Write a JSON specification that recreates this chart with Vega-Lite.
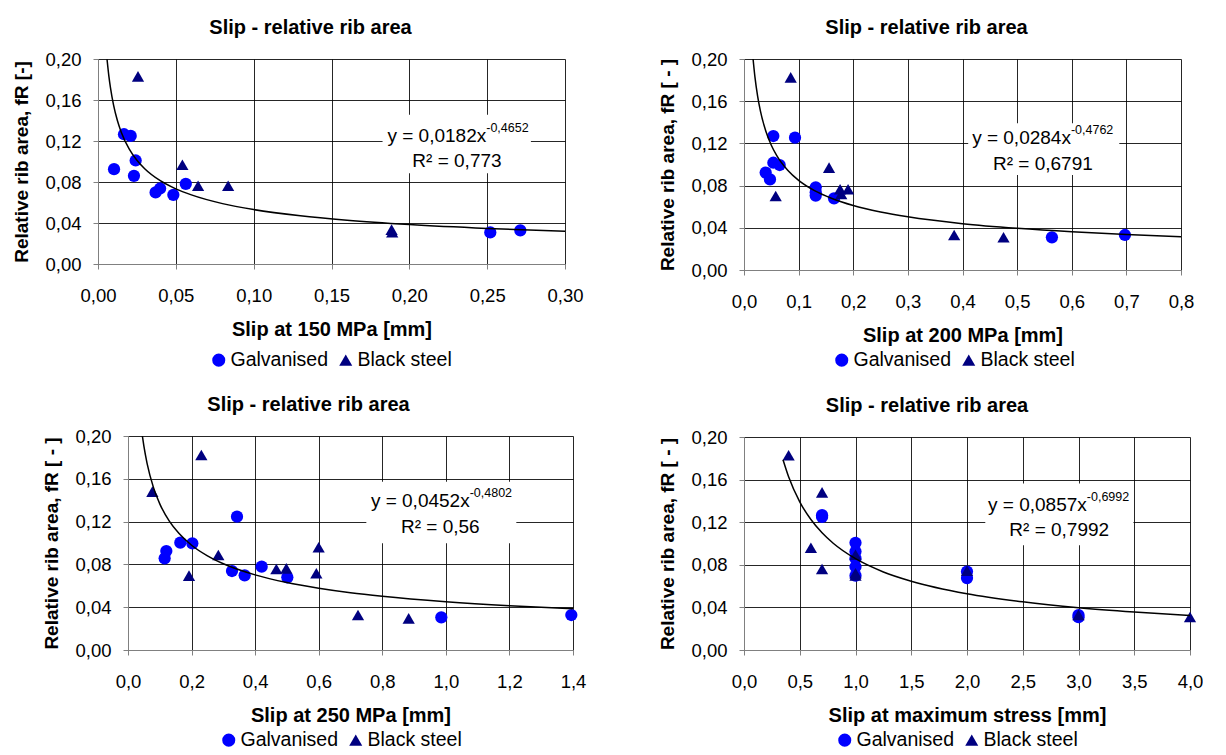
{
  "$schema": "https://vega.github.io/schema/vega-lite/v6.json",
  "padding": {"left": 12, "top": 18, "right": 0, "bottom": 0},
  "background": "white",
  "datasets": {
    "p1": [
      {"slip": 0.0103, "fr": 0.0925, "series": "Galvanised"},
      {"slip": 0.0167, "fr": 0.1266, "series": "Galvanised"},
      {"slip": 0.021, "fr": 0.125, "series": "Galvanised"},
      {"slip": 0.0242, "fr": 0.101, "series": "Galvanised"},
      {"slip": 0.0231, "fr": 0.086, "series": "Galvanised"},
      {"slip": 0.037, "fr": 0.0698, "series": "Galvanised"},
      {"slip": 0.0399, "fr": 0.0737, "series": "Galvanised"},
      {"slip": 0.0484, "fr": 0.0675, "series": "Galvanised"},
      {"slip": 0.0564, "fr": 0.0782, "series": "Galvanised"},
      {"slip": 0.252, "fr": 0.0308, "series": "Galvanised"},
      {"slip": 0.2713, "fr": 0.0328, "series": "Galvanised"},
      {"slip": 0.0257, "fr": 0.183, "series": "Black steel"},
      {"slip": 0.0542, "fr": 0.0968, "series": "Black steel"},
      {"slip": 0.0643, "fr": 0.0763, "series": "Black steel"},
      {"slip": 0.0836, "fr": 0.0763, "series": "Black steel"},
      {"slip": 0.1886, "fr": 0.0335, "series": "Black steel"},
      {"slip": 0.189, "fr": 0.031, "series": "Black steel"}
    ],
    "p2": [
      {"slip": 0.0537, "fr": 0.127, "series": "Galvanised"},
      {"slip": 0.0934, "fr": 0.1254, "series": "Galvanised"},
      {"slip": 0.0537, "fr": 0.1017, "series": "Galvanised"},
      {"slip": 0.0653, "fr": 0.0995, "series": "Galvanised"},
      {"slip": 0.0397, "fr": 0.0923, "series": "Galvanised"},
      {"slip": 0.0476, "fr": 0.0859, "series": "Galvanised"},
      {"slip": 0.1313, "fr": 0.0784, "series": "Galvanised"},
      {"slip": 0.1313, "fr": 0.0738, "series": "Galvanised"},
      {"slip": 0.1313, "fr": 0.0705, "series": "Galvanised"},
      {"slip": 0.1649, "fr": 0.0679, "series": "Galvanised"},
      {"slip": 0.5637, "fr": 0.031, "series": "Galvanised"},
      {"slip": 0.6974, "fr": 0.0332, "series": "Galvanised"},
      {"slip": 0.0855, "fr": 0.1826, "series": "Black steel"},
      {"slip": 0.1557, "fr": 0.097, "series": "Black steel"},
      {"slip": 0.058, "fr": 0.0701, "series": "Black steel"},
      {"slip": 0.1759, "fr": 0.0765, "series": "Black steel"},
      {"slip": 0.178, "fr": 0.072, "series": "Black steel"},
      {"slip": 0.1905, "fr": 0.0765, "series": "Black steel"},
      {"slip": 0.3847, "fr": 0.0332, "series": "Black steel"},
      {"slip": 0.4751, "fr": 0.031, "series": "Black steel"}
    ],
    "p3": [
      {"slip": 0.1206, "fr": 0.0925, "series": "Galvanised"},
      {"slip": 0.1153, "fr": 0.0857, "series": "Galvanised"},
      {"slip": 0.1646, "fr": 0.1003, "series": "Galvanised"},
      {"slip": 0.2024, "fr": 0.0997, "series": "Galvanised"},
      {"slip": 0.3429, "fr": 0.1246, "series": "Galvanised"},
      {"slip": 0.3272, "fr": 0.0738, "series": "Galvanised"},
      {"slip": 0.367, "fr": 0.0698, "series": "Galvanised"},
      {"slip": 0.4205, "fr": 0.0779, "series": "Galvanised"},
      {"slip": 0.5013, "fr": 0.0679, "series": "Galvanised"},
      {"slip": 0.9857, "fr": 0.0305, "series": "Galvanised"},
      {"slip": 1.3947, "fr": 0.0327, "series": "Galvanised"},
      {"slip": 0.2307, "fr": 0.1822, "series": "Black steel"},
      {"slip": 0.0766, "fr": 0.148, "series": "Black steel"},
      {"slip": 0.1919, "fr": 0.0695, "series": "Black steel"},
      {"slip": 0.2842, "fr": 0.0888, "series": "Black steel"},
      {"slip": 0.4667, "fr": 0.0757, "series": "Black steel"},
      {"slip": 0.4981, "fr": 0.0763, "series": "Black steel"},
      {"slip": 0.5998, "fr": 0.096, "series": "Black steel"},
      {"slip": 0.5925, "fr": 0.0717, "series": "Black steel"},
      {"slip": 0.7236, "fr": 0.0327, "series": "Black steel"},
      {"slip": 0.883, "fr": 0.0296, "series": "Black steel"}
    ],
    "p4": [
      {"slip": 0.7, "fr": 0.1266, "series": "Galvanised"},
      {"slip": 0.7, "fr": 0.125, "series": "Galvanised"},
      {"slip": 1.0, "fr": 0.1006, "series": "Galvanised"},
      {"slip": 1.0, "fr": 0.0925, "series": "Galvanised"},
      {"slip": 1.0, "fr": 0.086, "series": "Galvanised"},
      {"slip": 1.0, "fr": 0.0782, "series": "Galvanised"},
      {"slip": 1.0, "fr": 0.0698, "series": "Galvanised"},
      {"slip": 2.0, "fr": 0.0737, "series": "Galvanised"},
      {"slip": 2.0, "fr": 0.0675, "series": "Galvanised"},
      {"slip": 3.0, "fr": 0.0308, "series": "Galvanised"},
      {"slip": 3.0, "fr": 0.0328, "series": "Galvanised"},
      {"slip": 0.4, "fr": 0.1828, "series": "Black steel"},
      {"slip": 0.7, "fr": 0.148, "series": "Black steel"},
      {"slip": 0.6, "fr": 0.096, "series": "Black steel"},
      {"slip": 0.7, "fr": 0.076, "series": "Black steel"},
      {"slip": 1.0, "fr": 0.0895, "series": "Black steel"},
      {"slip": 1.0, "fr": 0.072, "series": "Black steel"},
      {"slip": 1.0, "fr": 0.07, "series": "Black steel"},
      {"slip": 2.0, "fr": 0.0745, "series": "Black steel"},
      {"slip": 3.0, "fr": 0.033, "series": "Black steel"},
      {"slip": 4.0, "fr": 0.031, "series": "Black steel"}
    ],
    "c1": [
      {"slip": 0.0058, "fr": 0.1998}, {"slip": 0.007, "fr": 0.1831}, {"slip": 0.008, "fr": 0.172},
      {"slip": 0.01, "fr": 0.155}, {"slip": 0.0125, "fr": 0.1398}, {"slip": 0.015, "fr": 0.1284},
      {"slip": 0.02, "fr": 0.1123}, {"slip": 0.025, "fr": 0.1012}, {"slip": 0.03, "fr": 0.093},
      {"slip": 0.04, "fr": 0.0813}, {"slip": 0.05, "fr": 0.0733}, {"slip": 0.06, "fr": 0.0674},
      {"slip": 0.08, "fr": 0.0589}, {"slip": 0.1, "fr": 0.0531}, {"slip": 0.13, "fr": 0.047},
      {"slip": 0.16, "fr": 0.0427}, {"slip": 0.2, "fr": 0.0385}, {"slip": 0.25, "fr": 0.0347},
      {"slip": 0.3, "fr": 0.0319}
    ],
    "c2": [
      {"slip": 0.0166, "fr": 0.2}, {"slip": 0.02, "fr": 0.183}, {"slip": 0.025, "fr": 0.1646},
      {"slip": 0.03, "fr": 0.1508}, {"slip": 0.04, "fr": 0.1315}, {"slip": 0.05, "fr": 0.1183},
      {"slip": 0.06, "fr": 0.1084}, {"slip": 0.08, "fr": 0.0946}, {"slip": 0.1, "fr": 0.085},
      {"slip": 0.13, "fr": 0.075}, {"slip": 0.16, "fr": 0.068}, {"slip": 0.2, "fr": 0.0611},
      {"slip": 0.25, "fr": 0.055}, {"slip": 0.3, "fr": 0.0504}, {"slip": 0.4, "fr": 0.0439},
      {"slip": 0.5, "fr": 0.0395}, {"slip": 0.6, "fr": 0.0362}, {"slip": 0.7, "fr": 0.0337},
      {"slip": 0.8, "fr": 0.0316}
    ],
    "c3": [
      {"slip": 0.0452, "fr": 0.2}, {"slip": 0.05, "fr": 0.1905}, {"slip": 0.06, "fr": 0.1745},
      {"slip": 0.08, "fr": 0.152}, {"slip": 0.1, "fr": 0.1366}, {"slip": 0.13, "fr": 0.1204},
      {"slip": 0.16, "fr": 0.109}, {"slip": 0.2, "fr": 0.0979}, {"slip": 0.25, "fr": 0.088},
      {"slip": 0.3, "fr": 0.0806}, {"slip": 0.4, "fr": 0.0702}, {"slip": 0.5, "fr": 0.063},
      {"slip": 0.6, "fr": 0.0578}, {"slip": 0.7, "fr": 0.0536}, {"slip": 0.8, "fr": 0.0503},
      {"slip": 1.0, "fr": 0.0452}, {"slip": 1.2, "fr": 0.0414}, {"slip": 1.4, "fr": 0.0385}
    ],
    "c4": [
      {"slip": 0.35, "fr": 0.1786}, {"slip": 0.4, "fr": 0.1626}, {"slip": 0.5, "fr": 0.1391},
      {"slip": 0.6, "fr": 0.1225}, {"slip": 0.7, "fr": 0.11}, {"slip": 0.8, "fr": 0.1002},
      {"slip": 1.0, "fr": 0.0857}, {"slip": 1.25, "fr": 0.0733}, {"slip": 1.5, "fr": 0.0646},
      {"slip": 2.0, "fr": 0.0528}, {"slip": 2.5, "fr": 0.0452}, {"slip": 3.0, "fr": 0.0397},
      {"slip": 3.5, "fr": 0.0357}, {"slip": 4.0, "fr": 0.0325}
    ]
  },
  "hconcat": [
    {
      "vconcat": [
        {
          "width": 467, "height": 205,
          "title": {"text": "Slip - relative rib area", "dx": -21},
          "layer": [
            {"data": {"values": [{}]}, "mark": {"type": "rect", "fill": "white"},
             "encoding": {"x": {"datum": 0.1828, "type": "quantitative", "title": "Slip at 150 MPa [mm]"}, "x2": {"datum": 0.2781},
                          "y": {"datum": 0.0886, "type": "quantitative", "title": "Relative rib area, fR [-]"}, "y2": {"datum": 0.1455}}},
            {"data": {"values": [{}]}, "mark": {"type": "text", "align": "right", "baseline": "alphabetic", "fontSize": 19, "text": "y = 0,0182x"},
             "encoding": {"x": {"datum": 0.2494, "type": "quantitative", "title": "Slip at 150 MPa [mm]"}, "y": {"datum": 0.1195, "type": "quantitative", "title": "Relative rib area, fR [-]"}}},
            {"data": {"values": [{}]}, "mark": {"type": "text", "align": "left", "baseline": "alphabetic", "fontSize": 12.5, "dy": -10, "text": "-0,4652"},
             "encoding": {"x": {"datum": 0.2494, "type": "quantitative", "title": "Slip at 150 MPa [mm]"}, "y": {"datum": 0.1195, "type": "quantitative", "title": "Relative rib area, fR [-]"}}},
            {"data": {"values": [{}]}, "mark": {"type": "text", "align": "center", "baseline": "alphabetic", "fontSize": 19, "text": "R² = 0,773"},
             "encoding": {"x": {"datum": 0.2306, "type": "quantitative", "title": "Slip at 150 MPa [mm]"}, "y": {"datum": 0.0942, "type": "quantitative", "title": "Relative rib area, fR [-]"}}},
            {"data": {"name": "p1"}, "mark": {"type": "point", "filled": true, "opacity": 1, "size": 150},
             "encoding": {
               "x": {"field": "slip", "type": "quantitative", "title": "Slip at 150 MPa [mm]", "scale": {"domain": [0, 0.3], "nice": false, "zero": false},
                     "axis": {"grid": true, "values": [0, 0.05, 0.1, 0.15, 0.2, 0.25, 0.3], "labelExpr": "replace(format(datum.value, '.2f'), '.', ',')"}},
               "y": {"field": "fr", "type": "quantitative", "title": "Relative rib area, fR [-]", "scale": {"domain": [0, 0.2], "nice": false, "zero": false},
                     "axis": {"grid": true, "values": [0, 0.04, 0.08, 0.12, 0.16, 0.2], "labelExpr": "replace(format(datum.value, '.2f'), '.', ',')"}},
               "color": {"field": "series", "type": "nominal", "scale": {"domain": ["Galvanised", "Black steel"], "range": ["#0000ff", "#000080"]},
                         "legend": {"orient": "none", "legendX": 111, "legendY": 291, "direction": "horizontal", "title": null}},
               "shape": {"field": "series", "type": "nominal", "scale": {"domain": ["Galvanised", "Black steel"], "range": ["circle", "triangle-up"]},
                         "legend": {"orient": "none", "legendX": 111, "legendY": 291, "direction": "horizontal", "title": null}}
             }},
            {"data": {"name": "c1"}, "mark": {"type": "line", "color": "black", "strokeWidth": 1.5, "interpolate": "monotone", "clip": true},
             "encoding": {"x": {"field": "slip", "type": "quantitative", "title": "Slip at 150 MPa [mm]"}, "y": {"field": "fr", "type": "quantitative", "title": "Relative rib area, fR [-]"}}}
          ]
        },
        {
          "hconcat": [
            {"width": 1, "height": 1, "data": {"values": []}, "mark": "point"},
            {
              "width": 445, "height": 214,
              "title": {"text": "Slip - relative rib area", "dx": -42},
              "layer": [
                {"data": {"values": [{}]}, "mark": {"type": "rect", "fill": "white"},
                 "encoding": {"x": {"datum": 0.7498, "type": "quantitative", "title": "Slip at 250 MPa [mm]"}, "x2": {"datum": 1.2217},
                              "y": {"datum": 0.0997, "type": "quantitative", "title": "Relative rib area, fR [ - ]"}, "y2": {"datum": 0.1573}}},
                {"data": {"values": [{}]}, "mark": {"type": "text", "align": "right", "baseline": "alphabetic", "fontSize": 19, "text": "y = 0,0452x"},
                 "encoding": {"x": {"datum": 1.0749, "type": "quantitative", "title": "Slip at 250 MPa [mm]"}, "y": {"datum": 0.1333, "type": "quantitative", "title": "Relative rib area, fR [ - ]"}}},
                {"data": {"values": [{}]}, "mark": {"type": "text", "align": "left", "baseline": "alphabetic", "fontSize": 12.5, "dy": -10, "text": "-0,4802"},
                 "encoding": {"x": {"datum": 1.0749, "type": "quantitative", "title": "Slip at 250 MPa [mm]"}, "y": {"datum": 0.1333, "type": "quantitative", "title": "Relative rib area, fR [ - ]"}}},
                {"data": {"values": [{}]}, "mark": {"type": "text", "align": "center", "baseline": "alphabetic", "fontSize": 19, "text": "R² = 0,56"},
                 "encoding": {"x": {"datum": 0.9826, "type": "quantitative", "title": "Slip at 250 MPa [mm]"}, "y": {"datum": 0.109, "type": "quantitative", "title": "Relative rib area, fR [ - ]"}}},
                {"data": {"name": "p3"}, "mark": {"type": "point", "filled": true, "opacity": 1, "size": 150},
                 "encoding": {
                   "x": {"field": "slip", "type": "quantitative", "title": "Slip at 250 MPa [mm]", "scale": {"domain": [0, 1.4], "nice": false, "zero": false},
                         "axis": {"grid": true, "values": [0, 0.2, 0.4, 0.6, 0.8, 1.0, 1.2, 1.4], "labelExpr": "replace(format(datum.value, '.1f'), '.', ',')"}},
                   "y": {"field": "fr", "type": "quantitative", "title": "Relative rib area, fR [ - ]", "scale": {"domain": [0, 0.2], "nice": false, "zero": false},
                         "axis": {"grid": true, "values": [0, 0.04, 0.08, 0.12, 0.16, 0.2], "labelExpr": "replace(format(datum.value, '.2f'), '.', ',')"}},
                   "color": {"field": "series", "type": "nominal", "scale": {"domain": ["Galvanised", "Black steel"], "range": ["#0000ff", "#000080"]},
                             "legend": {"orient": "none", "legendX": 91, "legendY": 294, "direction": "horizontal", "title": null}},
                   "shape": {"field": "series", "type": "nominal", "scale": {"domain": ["Galvanised", "Black steel"], "range": ["circle", "triangle-up"]},
                             "legend": {"orient": "none", "legendX": 91, "legendY": 294, "direction": "horizontal", "title": null}}
                 }},
                {"data": {"name": "c3"}, "mark": {"type": "line", "color": "black", "strokeWidth": 1.5, "interpolate": "monotone", "clip": true},
                 "encoding": {"x": {"field": "slip", "type": "quantitative", "title": "Slip at 250 MPa [mm]"}, "y": {"field": "fr", "type": "quantitative", "title": "Relative rib area, fR [ - ]"}}}
              ]
            }
          ],
          "spacing": 29,
          "bounds": "flush",
          "resolve": {"scale": {"color": "independent", "shape": "independent"}, "legend": {"color": "independent", "shape": "independent"}}
        }
      ],
      "spacing": 172,
      "bounds": "flush",
      "resolve": {"scale": {"color": "independent", "shape": "independent"}, "legend": {"color": "independent", "shape": "independent"}}
    },
    {
      "vconcat": [
        {
          "width": 437, "height": 211,
          "title": {"text": "Slip - relative rib area", "dx": -36},
          "layer": [
            {"data": {"values": [{}]}, "mark": {"type": "rect", "fill": "white"},
             "encoding": {"x": {"datum": 0.4104, "type": "quantitative", "title": "Slip at 200 MPa [mm]"}, "x2": {"datum": 0.687},
                          "y": {"datum": 0.09, "type": "quantitative", "title": "Relative rib area, fR [ - ]"}, "y2": {"datum": 0.139}}},
            {"data": {"values": [{}]}, "mark": {"type": "text", "align": "right", "baseline": "alphabetic", "fontSize": 19, "text": "y = 0,0284x"},
             "encoding": {"x": {"datum": 0.5985, "type": "quantitative", "title": "Slip at 200 MPa [mm]"}, "y": {"datum": 0.1191, "type": "quantitative", "title": "Relative rib area, fR [ - ]"}}},
            {"data": {"values": [{}]}, "mark": {"type": "text", "align": "left", "baseline": "alphabetic", "fontSize": 12.5, "dy": -10, "text": "-0,4762"},
             "encoding": {"x": {"datum": 0.5985, "type": "quantitative", "title": "Slip at 200 MPa [mm]"}, "y": {"datum": 0.1191, "type": "quantitative", "title": "Relative rib area, fR [ - ]"}}},
            {"data": {"values": [{}]}, "mark": {"type": "text", "align": "center", "baseline": "alphabetic", "fontSize": 19, "text": "R² = 0,6791"},
             "encoding": {"x": {"datum": 0.5472, "type": "quantitative", "title": "Slip at 200 MPa [mm]"}, "y": {"datum": 0.0948, "type": "quantitative", "title": "Relative rib area, fR [ - ]"}}},
            {"data": {"name": "p2"}, "mark": {"type": "point", "filled": true, "opacity": 1, "size": 150},
             "encoding": {
               "x": {"field": "slip", "type": "quantitative", "title": "Slip at 200 MPa [mm]", "scale": {"domain": [0, 0.8], "nice": false, "zero": false},
                     "axis": {"grid": true, "values": [0, 0.1, 0.2, 0.3, 0.4, 0.5, 0.6, 0.7, 0.8], "labelExpr": "replace(format(datum.value, '.1f'), '.', ',')"}},
               "y": {"field": "fr", "type": "quantitative", "title": "Relative rib area, fR [ - ]", "scale": {"domain": [0, 0.2], "nice": false, "zero": false},
                     "axis": {"grid": true, "values": [0, 0.04, 0.08, 0.12, 0.16, 0.2], "labelExpr": "replace(format(datum.value, '.2f'), '.', ',')"}},
               "color": {"field": "series", "type": "nominal", "scale": {"domain": ["Galvanised", "Black steel"], "range": ["#0000ff", "#000080"]},
                         "legend": {"orient": "none", "legendX": 88, "legendY": 291, "direction": "horizontal", "title": null}},
               "shape": {"field": "series", "type": "nominal", "scale": {"domain": ["Galvanised", "Black steel"], "range": ["circle", "triangle-up"]},
                         "legend": {"orient": "none", "legendX": 88, "legendY": 291, "direction": "horizontal", "title": null}}
             }},
            {"data": {"name": "c2"}, "mark": {"type": "line", "color": "black", "strokeWidth": 1.5, "interpolate": "monotone", "clip": true},
             "encoding": {"x": {"field": "slip", "type": "quantitative", "title": "Slip at 200 MPa [mm]"}, "y": {"field": "fr", "type": "quantitative", "title": "Relative rib area, fR [ - ]"}}}
          ]
        },
        {
          "width": 446, "height": 213,
          "title": {"text": "Slip - relative rib area", "dx": -40},
          "layer": [
            {"data": {"values": [{}]}, "mark": {"type": "rect", "fill": "white"},
             "encoding": {"x": {"datum": 2.164, "type": "quantitative", "title": "Slip at maximum stress [mm]"}, "x2": {"datum": 3.4925},
                          "y": {"datum": 0.0984, "type": "quantitative", "title": "Relative rib area, fR [ - ]"}, "y2": {"datum": 0.1563}}},
            {"data": {"values": [{}]}, "mark": {"type": "text", "align": "right", "baseline": "alphabetic", "fontSize": 19, "text": "y = 0,0857x"},
             "encoding": {"x": {"datum": 3.0746, "type": "quantitative", "title": "Slip at maximum stress [mm]"}, "y": {"datum": 0.1306, "type": "quantitative", "title": "Relative rib area, fR [ - ]"}}},
            {"data": {"values": [{}]}, "mark": {"type": "text", "align": "left", "baseline": "alphabetic", "fontSize": 12.5, "dy": -10, "text": "-0,6992"},
             "encoding": {"x": {"datum": 3.0746, "type": "quantitative", "title": "Slip at maximum stress [mm]"}, "y": {"datum": 0.1306, "type": "quantitative", "title": "Relative rib area, fR [ - ]"}}},
            {"data": {"values": [{}]}, "mark": {"type": "text", "align": "center", "baseline": "alphabetic", "fontSize": 19, "text": "R² = 0,7992"},
             "encoding": {"x": {"datum": 2.827, "type": "quantitative", "title": "Slip at maximum stress [mm]"}, "y": {"datum": 0.1072, "type": "quantitative", "title": "Relative rib area, fR [ - ]"}}},
            {"data": {"name": "p4"}, "mark": {"type": "point", "filled": true, "opacity": 1, "size": 150},
             "encoding": {
               "x": {"field": "slip", "type": "quantitative", "title": "Slip at maximum stress [mm]", "scale": {"domain": [0, 4], "nice": false, "zero": false},
                     "axis": {"grid": true, "values": [0, 0.5, 1, 1.5, 2, 2.5, 3, 3.5, 4], "labelExpr": "replace(format(datum.value, '.1f'), '.', ',')"}},
               "y": {"field": "fr", "type": "quantitative", "title": "Relative rib area, fR [ - ]", "scale": {"domain": [0, 0.2], "nice": false, "zero": false},
                     "axis": {"grid": true, "values": [0, 0.04, 0.08, 0.12, 0.16, 0.2], "labelExpr": "replace(format(datum.value, '.2f'), '.', ',')"}},
               "color": {"field": "series", "type": "nominal", "scale": {"domain": ["Galvanised", "Black steel"], "range": ["#0000ff", "#000080"]},
                         "legend": {"orient": "none", "legendX": 91, "legendY": 293, "direction": "horizontal", "title": null}},
               "shape": {"field": "series", "type": "nominal", "scale": {"domain": ["Galvanised", "Black steel"], "range": ["circle", "triangle-up"]},
                         "legend": {"orient": "none", "legendX": 91, "legendY": 293, "direction": "horizontal", "title": null}}
             }},
            {"data": {"name": "c4"}, "mark": {"type": "line", "color": "black", "strokeWidth": 1.5, "interpolate": "monotone", "clip": true},
             "encoding": {"x": {"field": "slip", "type": "quantitative", "title": "Slip at maximum stress [mm]"}, "y": {"field": "fr", "type": "quantitative", "title": "Relative rib area, fR [ - ]"}}}
          ]
        }
      ],
      "spacing": 167,
      "bounds": "flush",
      "resolve": {"scale": {"color": "independent", "shape": "independent"}, "legend": {"color": "independent", "shape": "independent"}}
    }
  ],
  "spacing": 646,
  "bounds": "flush",
  "resolve": {"scale": {"color": "independent", "shape": "independent"}, "legend": {"color": "independent", "shape": "independent"}},
  "config": {
    "font": "Liberation Sans",
    "view": {"stroke": null},
    "axis": {
      "grid": true,
      "labelFontSize": 18.5, "labelColor": "#000000", "labelFont": "Liberation Sans",
      "titleFontWeight": "bold", "titleColor": "#000000", "titleFont": "Liberation Sans",
      "domainColor": "#808080", "tickColor": "#808080", "tickSize": 5,
      "gridColor": "#000000", "gridOpacity": 0.85, "labelFlush": false, "labelOverlap": false
    },
    "axisX": {"labelPadding": 17, "titlePadding": 15, "titleFontSize": 20},
    "axisY": {"labelPadding": 12, "titlePadding": 13, "titleFontSize": 19},
    "title": {"fontSize": 20, "fontWeight": "bold", "color": "#000000", "font": "Liberation Sans", "offset": 12, "anchor": "middle"},
    "legend": {"labelFontSize": 19.5, "labelFont": "Liberation Sans", "labelColor": "#000000", "symbolSize": 170, "columnPadding": 7, "labelOffset": 2, "padding": 0, "symbolStrokeWidth": 0}
  }
}
